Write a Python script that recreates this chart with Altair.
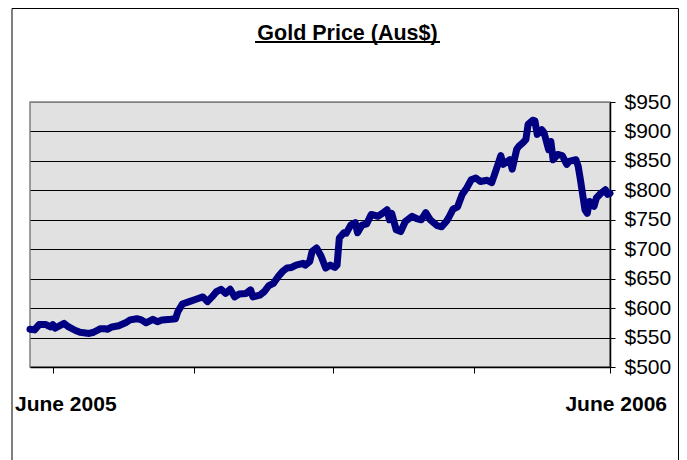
import altair as alt
import pandas as pd

# trading-day index (0..255 over June 2005 - June 2006) and gold price in AUD
days = [0, 2, 4, 7, 9, 10, 11, 15, 17, 20, 22, 26, 28, 31, 33, 34, 36, 39, 42, 44,
        47, 49, 51, 54, 56, 58, 62, 64, 65, 67, 70, 73, 76, 78, 80, 82, 84, 86, 88, 90,
        92, 95, 97, 98, 101, 103, 105, 107, 109, 111, 113, 115, 117, 120, 121, 123, 124, 126, 127, 128,
        130, 132, 134, 135, 136, 138, 139, 141, 143, 144, 146, 148, 150, 153, 155, 157, 158, 159, 161, 163,
        165, 168, 170, 172, 174, 176, 179, 181, 183, 184, 186, 188, 190, 192, 194, 196, 198, 201, 203, 204,
        206, 207, 208, 211, 212, 214, 215, 217, 218, 219, 221, 222, 223, 225, 226, 228, 229, 230, 232, 234,
        236, 237, 240, 241, 242, 244, 245, 246, 248, 249, 251, 253, 254, 255]
prices = [564, 563, 572, 572, 568, 572, 566, 574, 568, 562, 559, 557, 559, 565, 565, 564, 568, 570, 575, 580,
          582, 580, 575, 581, 577, 580, 581, 582, 594, 607, 611, 615, 619, 611, 619, 628, 632, 625, 632, 619,
          624, 625, 631, 619, 622, 628, 638, 642, 653, 662, 668, 669, 673, 676, 673, 679, 696, 702, 695, 688,
          668, 673, 669, 673, 719, 728, 727, 741, 745, 728, 741, 743, 759, 756, 761, 767, 750, 761, 733, 730,
          747, 756, 752, 750, 762, 750, 740, 738, 747, 753, 768, 772, 793, 804, 818, 821, 815, 817, 813, 824,
          847, 859, 844, 852, 836, 870, 875, 882, 886, 912, 919, 918, 895, 903, 898, 869, 883, 852, 861, 859,
          844, 849, 852, 841, 818, 767, 761, 781, 773, 787, 795, 801, 793, 795]

y_ticks = [500, 550, 600, 650, 700, 750, 800, 850, 900, 950]
x_ticks = [10, 72, 133, 195, 255]
title_text = "Gold Price (Aus$)"
start_label = "June 2005"
end_label = "June 2006"

FONT = "Liberation Sans"

df = pd.DataFrame({"day": days, "price": prices})

xscale = alt.Scale(domain=[0, 255], nice=False, zero=False)
yscale = alt.Scale(domain=[500, 950], nice=False, zero=False)

frame = alt.Chart(pd.DataFrame({"a": [0]})).mark_rect(
    fillOpacity=0, stroke="black", strokeWidth=1
).encode(x=alt.value(-18), x2=alt.value(648.5), y=alt.value(-93.5), y2=alt.value(420))

line = alt.Chart(df).mark_line(
    color="#000080", strokeWidth=7, strokeCap="round", strokeJoin="round"
).encode(
    x=alt.X("day:Q", scale=xscale,
            axis=alt.Axis(values=x_ticks, labels=False, grid=False, title=None,
                          domainColor="black", domainWidth=1.5, tickColor="black",
                          tickSize=6, tickWidth=1)),
    y=alt.Y("price:Q", scale=yscale,
            axis=alt.Axis(orient="right", values=y_ticks, title=None,
                          labelExpr="'$' + datum.value",
                          labelFont=FONT, labelFontSize=21, labelColor="black",
                          labelPadding=9, tickSize=5, tickColor="black",
                          domainColor="black", domainWidth=1.5,
                          grid=True,
                          gridColor={"condition": {"test": "datum.value == 950 || datum.value == 500",
                                                   "value": "#808080"},
                                     "value": "black"},
                          gridWidth=1)),
)

lab_df = pd.DataFrame({"day": [0, 255], "text": [start_label, end_label]})
lab_left = alt.Chart(lab_df).transform_filter("datum.day == 0").mark_text(
    align="left", baseline="alphabetic", dx=-15, font=FONT, fontSize=21,
    fontWeight="bold", color="black"
).encode(x=alt.X("day:Q", scale=xscale), y=alt.value(309), text="text:N")
lab_right = alt.Chart(lab_df).transform_filter("datum.day == 255").mark_text(
    align="right", baseline="alphabetic", dx=57, font=FONT, fontSize=21,
    fontWeight="bold", color="black"
).encode(x=alt.X("day:Q", scale=xscale), y=alt.value(309), text="text:N")

title = alt.Chart(pd.DataFrame({"t": [title_text]})).mark_text(
    align="center", baseline="alphabetic", font=FONT, fontSize=21.5,
    fontWeight="bold", color="black"
).encode(x=alt.value(317.5), y=alt.value(-62), text="t:N")

underline = alt.Chart(pd.DataFrame({"a": [0]})).mark_rule(
    color="black", strokeWidth=2
).encode(x=alt.value(225), x2=alt.value(410), y=alt.value(-60))

chart = alt.layer(frame, line, lab_left, lab_right, title, underline).properties(
    width=580, height=265,
    autosize=alt.AutoSizeParams(type="none"),
    padding={"left": 22, "top": 94, "right": 69, "bottom": 93},
    background="white",
).configure_view(
    fill="#E1E1E1", stroke="#808080", strokeWidth=1.5
)

chart.save("out.html", embed_options={"renderer": "svg", "actions": False})
